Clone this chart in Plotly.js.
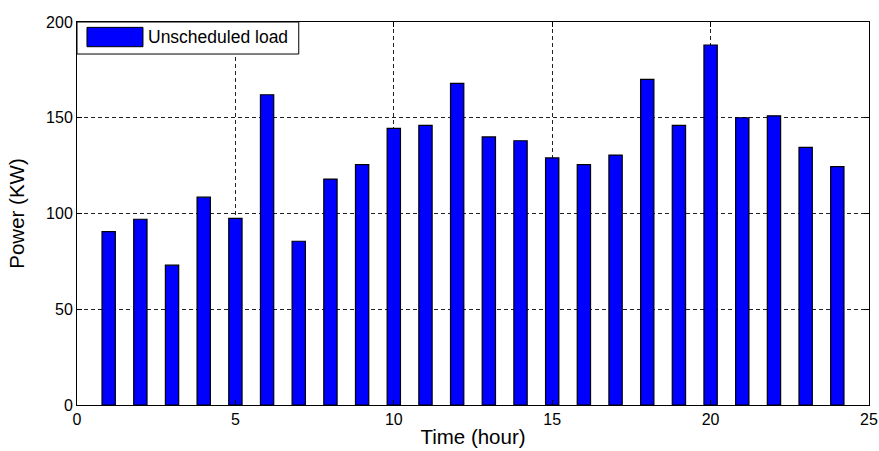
<!DOCTYPE html>
<html>
<head>
<meta charset="utf-8">
<script src="https://cdn.plot.ly/plotly-3.0.1.min.js"></script>
<style>html,body{margin:0;padding:0;background:#fff;}#chart{width:879px;height:451px;}</style>
</head>
<body>
<div id="chart"></div>
<script>
const hours = [1,2,3,4,5,6,7,8,9,10,11,12,13,14,15,16,17,18,19,20,21,22,23,24];
const unscheduledLoad = [90.5,97,73,108.5,97.5,162,85.5,118,125.5,144.5,146,168,140,138,129,125.5,130.5,170,146,188,150,151,134.5,124.5];
const xTicks = [0,5,10,15,20,25];
const yTicks = [0,50,100,150,200];
const legendLabel = 'Unscheduled load';

const fam = 'Arial, "Liberation Sans", sans-serif';
const font = {family: fam, size: 16, color: '#000'};

const trace = {
  type: 'bar', x: hours, y: unscheduledLoad, name: legendLabel,
  width: 0.42,
  marker: {color: '#0000ff', line: {color: '#000', width: 1.2}},
  showlegend: false
};

const axisCommon = {
  showline: true, linecolor: '#000', linewidth: 1, mirror: 'ticks',
  ticks: 'inside', ticklen: 5, tickcolor: '#000',
  showgrid: true, gridcolor: '#222', gridwidth: 1, griddash: '4px,3px',
  zeroline: false, tickfont: font
};

const layout = {
  width: 879, height: 451,
  margin: {l: 77, r: 10, t: 22, b: 46},
  paper_bgcolor: '#fff', plot_bgcolor: '#fff',
  font: font,
  xaxis: Object.assign({}, axisCommon, {
    range: [0, 25], tickvals: xTicks, ticktext: xTicks.map(String),
    title: {text: 'Time (hour)', font: {family: fam, size: 20.5, color: '#000'}, standoff: 2}
  }),
  yaxis: Object.assign({}, axisCommon, {
    range: [0, 200], tickvals: yTicks, ticktext: yTicks.map(String),
    title: {text: 'Power (KW)', font: {family: fam, size: 20.5, color: '#000'}, standoff: 15}
  }),
  shapes: [
    {type: 'rect', xref: 'paper', yref: 'paper', x0: 0, x1: 0.280, y0: 0.9164, y1: 1,
     fillcolor: '#fff', line: {color: '#000', width: 1}, layer: 'above'},
    {type: 'rect', xref: 'paper', yref: 'paper', x0: 0.0126, x1: 0.0833, y0: 0.9355, y1: 0.986,
     fillcolor: '#0000ff', line: {color: '#000', width: 1}, layer: 'above'}
  ],
  annotations: [
    {xref: 'paper', yref: 'paper', x: 0.087, y: 0.9605, xanchor: 'left', yanchor: 'middle',
     text: legendLabel, showarrow: false, font: {family: fam, size: 17.5, color: '#000'}}
  ]
};

Plotly.newPlot('chart', [trace], layout, {displayModeBar: false, staticPlot: true});
</script>
</body>
</html>
